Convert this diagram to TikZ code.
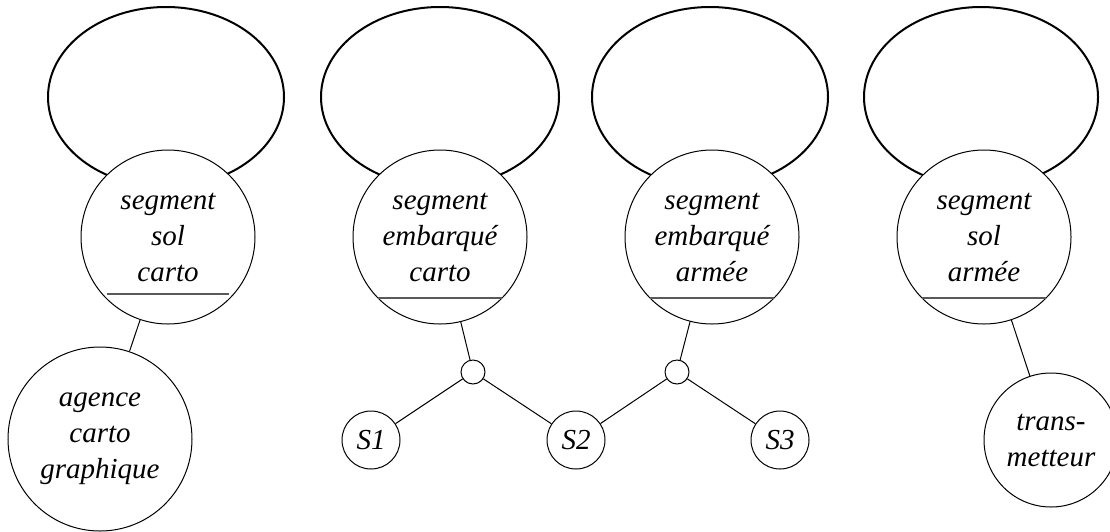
\documentclass[tikz,border=0pt]{standalone}
\usepackage{fontspec}
\setmainfont{Liberation Serif}
\usetikzlibrary{calc,backgrounds}
\tikzset{
  ent/.style={circle,draw,line width=1pt,fill=white,inner sep=0pt,minimum size=174pt,
    align=center,font=\fontsize{29}{36}\selectfont\itshape},
  ext/.style={circle,draw,line width=1pt,fill=white,inner sep=0pt,
    align=center,font=\fontsize{29}{36}\selectfont\itshape},
  hub/.style={circle,draw,line width=1pt,fill=white,inner sep=0pt,minimum size=24pt},
  sn/.style={circle,draw,line width=1pt,fill=white,inner sep=0pt,minimum size=58pt,
    font=\fontsize{29}{36}\selectfont\itshape},
  loopst/.style={line width=2pt},
  chord/.style={line width=1.2pt,black!65},
  conn/.style={line width=1pt}
}
\begin{document}
\begin{tikzpicture}[x=1pt,y=-1pt]
\useasboundingbox (0,0) rectangle (1110,531);
\node[ent] (c1) at (168,237) {segment\\sol\\carto};
\node[ent] (c2) at (440,237) {segment\\embarqué\\carto};
\node[ent] (c3) at (712,237) {segment\\embarqué\\armée};
\node[ent] (c4) at (984,237) {segment\\sol\\armée};
\node[ext,minimum size=184pt] (ag) at (100,439) {agence\\carto\\graphique};
\node[ext,minimum size=134pt] (tr) at (1051,440) {trans-\\metteur};
\node[hub] (h1) at (473,372) {};
\node[hub] (h2) at (677,372) {};
\node[sn] (s1) at (371,440) {S1};
\node[sn] (s2) at (576,440) {S2};
\node[sn] (s3) at (780,440) {S3};
\begin{scope}[on background layer]
\draw[loopst] ($(c1)+(-2,-140)$) ellipse [x radius=118pt, y radius=90pt];
\draw[loopst] ($(c2)+(0,-140)$) ellipse [x radius=119pt, y radius=90pt];
\draw[loopst] ($(c3)+(-2,-140)$) ellipse [x radius=118pt, y radius=90pt];
\draw[loopst] ($(c4)+(-3,-140)$) ellipse [x radius=117pt, y radius=90pt];
\draw[conn] (c1) -- (ag);
\draw[conn] (c2) -- (h1);
\draw[conn] (h1) -- (s1);
\draw[conn] (h1) -- (s2);
\draw[conn] (c3) -- (h2);
\draw[conn] (h2) -- (s2);
\draw[conn] (h2) -- (s3);
\draw[conn] (c4) -- (tr);
\end{scope}
\draw[chord] ($(c1)+(-61,57)$) -- ($(c1)+(61,57)$);
\draw[chord] ($(c2)+(-62,61)$) -- ($(c2)+(62,61)$);
\draw[chord] ($(c3)+(-62,61)$) -- ($(c3)+(62,61)$);
\draw[chord] ($(c4)+(-62,61)$) -- ($(c4)+(62,61)$);
\end{tikzpicture}
\end{document}
